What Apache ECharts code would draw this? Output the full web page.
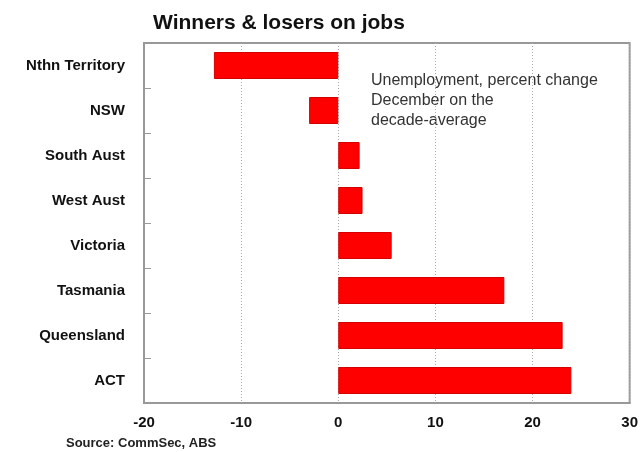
<!DOCTYPE html>
<html>
<head>
<meta charset="utf-8">
<script src="https://cdn.jsdelivr.net/npm/echarts@6/dist/echarts.min.js"></script>
<style>
  html, body { margin: 0; padding: 0; background: #fff; }
  #chart { width: 641px; height: 452px; }
</style>
</head>
<body>
<div id="chart"></div>
<script>
// States and territories, top to bottom
const regions = ['Nthn Territory', 'NSW', 'South Aust', 'West Aust', 'Victoria', 'Tasmania', 'Queensland', 'ACT'];
// Unemployment, percent change December on the decade-average
const changePct = [-12.8, -3.0, 2.2, 2.5, 5.5, 17.1, 23.1, 24.0];
// Value axis range and step
const xMin = -20, xMax = 30, xStep = 10;

const chart = echarts.init(document.getElementById('chart'), null, { renderer: 'canvas' });

const FONT = 'Liberation Sans, Arial, sans-serif';

chart.setOption({
  animation: false,
  backgroundColor: '#ffffff',
  title: {
    text: 'Winners & losers on jobs',
    left: 148,
    top: 8,
    textStyle: { fontFamily: FONT, fontWeight: 'bold', fontSize: 21, color: '#111' }
  },
  grid: {
    left: 144, right: 8, top: 43, bottom: 49,
    show: true, borderColor: '#999', borderWidth: 2, backgroundColor: 'transparent'
  },
  xAxis: {
    type: 'value',
    min: xMin, max: xMax, interval: xStep,
    axisLine: { show: true, onZero: false, lineStyle: { color: '#999', width: 2 } },
    axisTick: { show: false },
    axisLabel: { margin: 12, fontFamily: FONT, fontWeight: 'bold', fontSize: 15, color: '#111' },
    splitLine: { show: true, lineStyle: { color: '#aaa', type: [1, 2], width: 1 } }
  },
  yAxis: {
    type: 'category',
    data: regions,
    inverse: true,
    axisLine: { show: true, onZero: false, lineStyle: { color: '#999', width: 2 } },
    axisTick: { show: true, inside: true, length: 7, lineStyle: { color: '#999', width: 1 } },
    axisLabel: { margin: 19, fontFamily: FONT, fontWeight: 'bold', fontSize: 15, color: '#111' },
    splitLine: { show: false }
  },
  series: [{
    type: 'bar',
    data: changePct,
    barCategoryGap: '40%',
    itemStyle: { color: '#ff0000', borderColor: '#d40000', borderWidth: 1 }
  }],
  graphic: [
    {
      type: 'text',
      left: 371,
      top: 71,
      style: {
        text: 'Unemployment, percent change\nDecember on the\ndecade-average',
        fontFamily: FONT,
        fontSize: 16,
        lineHeight: 20,
        fill: '#333'
      }
    },
    {
      type: 'text',
      left: 66,
      top: 437,
      style: {
        text: 'Source: CommSec, ABS',
        fontFamily: FONT,
        fontWeight: 'bold',
        fontSize: 13,
        fill: '#222'
      }
    }
  ]
});
</script>
</body>
</html>
